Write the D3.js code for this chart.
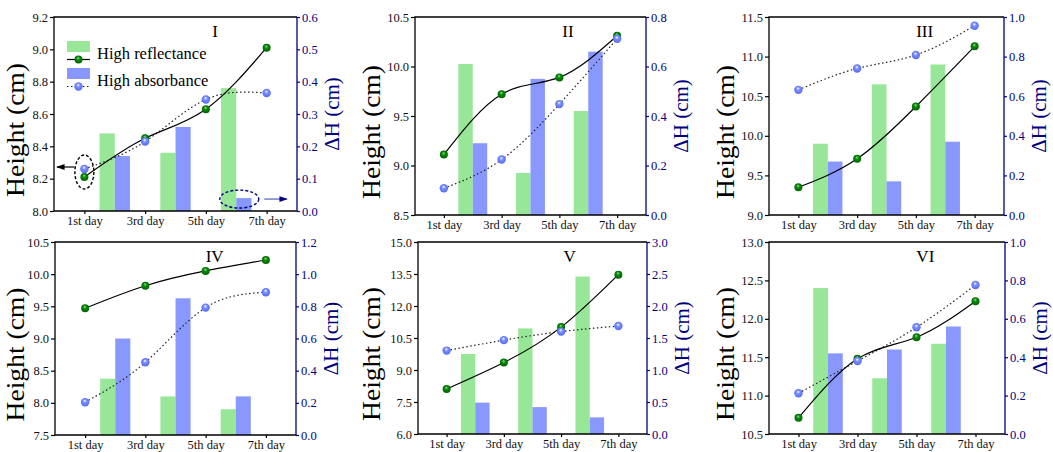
<!DOCTYPE html>
<html>
<head>
<meta charset="utf-8">
<script src="https://cdn.jsdelivr.net/npm/d3@7"></script>
<style>
  body { margin: 0; background: #fff; }
  text { font-family: "Liberation Serif", "Times New Roman", serif; }
</style>
</head>
<body>
<div id="chart"></div>
<script>
// data
var dayLabels = ["1st day", "3rd day", "5th day", "7th day"];
var dayNums = [1, 3, 5, 7];
var barDays = [2, 4, 6];
var panelNames = ["I", "II", "III", "IV", "V", "VI"];

var reflHeight = [
  [8.21, 8.45, 8.63, 9.01],
  [9.11, 9.72, 9.89, 10.31],
  [9.35, 9.71, 10.37, 11.13],
  [9.47, 9.82, 10.05, 10.22],
  [8.11, 9.35, 11.01, 13.47],
  [10.71, 11.48, 11.76, 12.23]
];
var absHeight = [
  [8.26, 8.43, 8.69, 8.73],
  [8.77, 9.06, 9.62, 10.28],
  [10.58, 10.85, 11.02, 11.39],
  [8.01, 8.63, 9.48, 9.72],
  [9.91, 10.40, 10.80, 11.06],
  [11.03, 11.45, 11.89, 12.44]
];
var reflDelta = [
  [0.24, 0.18, 0.38],
  [0.61, 0.17, 0.42],
  [0.36, 0.66, 0.76],
  [0.35, 0.24, 0.16],
  [1.25, 1.65, 2.46],
  [0.76, 0.29, 0.47]
];
var absDelta = [
  [0.17, 0.26, 0.04],
  [0.29, 0.55, 0.66],
  [0.27, 0.17, 0.37],
  [0.60, 0.85, 0.24],
  [0.49, 0.42, 0.26],
  [0.42, 0.44, 0.56]
];
var heightDomains = [[8.0, 9.2], [8.5, 10.5], [9.0, 11.5], [7.5, 10.5], [6.0, 15.0], [10.5, 13.0]];
var heightSteps = [0.2, 0.5, 0.5, 0.5, 1.5, 0.5];
var deltaDomains = [[0, 0.6], [0, 0.8], [0, 1.0], [0, 1.2], [0, 3.0], [0, 1.0]];
var deltaSteps = [0.1, 0.2, 0.2, 0.2, 0.5, 0.2];

// frame of each panel (left, right, top, bottom) and x of the left title
var frames = [
  [54, 297, 17, 211],
  [415, 646, 17, 215],
  [769, 1004, 17, 215],
  [55, 296, 242, 435],
  [418, 647, 242, 434],
  [769, 1005, 242, 434]
];
var titleX = [24, 380, 734, 24, 380, 734];

var greenBar = "#98e698", blueBar = "#8898ff";
var navy = "#000080";

var svg = d3.select("#chart").append("svg")
  .attr("width", 1053)
  .attr("height", 452);

var defs = svg.append("defs");
function ballGrad(id, light, base, dark) {
  var g = defs.append("radialGradient").attr("id", id)
    .attr("cx", "0.5").attr("cy", "0.5").attr("r", "0.6")
    .attr("fx", "0.45").attr("fy", "0.3");
  g.append("stop").attr("offset", "0").attr("stop-color", light);
  g.append("stop").attr("offset", "0.35").attr("stop-color", base);
  g.append("stop").attr("offset", "1").attr("stop-color", dark);
}
ballGrad("ballGreen", "#9be29b", "#0a8a0a", "#005a00");
ballGrad("ballBlue", "#ffffff", "#7a8fff", "#4d62f0");

var marker = function(id, color) {
  defs.append("marker").attr("id", id)
    .attr("viewBox", "0 0 10 10").attr("refX", 9).attr("refY", 5)
    .attr("markerWidth", 7).attr("markerHeight", 7)
    .attr("orient", "auto-start-reverse")
    .append("path").attr("d", "M0,1.5 L10,5 L0,8.5 Z").attr("fill", color);
};
marker("arrBlack", "#000");
marker("arrNavy", navy);

function drawPanel(p) {
  var f = frames[p];
  var left = f[0], right = f[1], top = f[2], bottom = f[3];

  var x = d3.scaleLinear().domain([0, 8]).range([left, right]);
  var y = d3.scaleLinear().domain(heightDomains[p]).range([bottom, top]);
  var y2 = d3.scaleLinear().domain(deltaDomains[p]).range([bottom, top]);
  var bw = x(0.5) - x(0);

  var g = svg.append("g");

  // bars (height change)
  g.selectAll("rect.refl")
    .data(reflDelta[p])
    .enter().append("rect")
    .attr("x", function(d, i) { return x(barDays[i]) - bw; })
    .attr("width", bw)
    .attr("y", function(d) { return y2(d); })
    .attr("height", function(d) { return y2(0) - y2(d); })
    .attr("fill", greenBar);
  g.selectAll("rect.abs")
    .data(absDelta[p])
    .enter().append("rect")
    .attr("x", function(d, i) { return x(barDays[i]); })
    .attr("width", bw)
    .attr("y", function(d) { return y2(d); })
    .attr("height", function(d) { return y2(0) - y2(d); })
    .attr("fill", blueBar);

  // lines
  var line = d3.line()
    .x(function(d, i) { return x(dayNums[i]); })
    .y(function(d) { return y(d); })
    .curve(d3.curveNatural);

  g.append("path").datum(absHeight[p])
    .attr("fill", "none").attr("stroke", "#222")
    .attr("stroke-width", 1.2).attr("stroke-dasharray", "1.5,2.5")
    .attr("d", line);
  g.append("path").datum(reflHeight[p])
    .attr("fill", "none").attr("stroke", "#000")
    .attr("stroke-width", 1.2)
    .attr("d", line);

  g.selectAll("circle.refl")
    .data(reflHeight[p])
    .enter().append("circle")
    .attr("cx", function(d, i) { return x(dayNums[i]); })
    .attr("cy", function(d) { return y(d); })
    .attr("r", 4)
    .attr("fill", "url(#ballGreen)");
  g.selectAll("circle.abs")
    .data(absHeight[p])
    .enter().append("circle")
    .attr("cx", function(d, i) { return x(dayNums[i]); })
    .attr("cy", function(d) { return y(d); })
    .attr("r", 4.2)
    .attr("fill", "url(#ballBlue)");

  // axes
  var hd = heightDomains[p], hs = heightSteps[p];
  var hTicks = d3.range(hd[0], hd[1] + hs / 2, hs);
  var dd = deltaDomains[p], ds = deltaSteps[p];
  var dTicks = d3.range(dd[0], dd[1] + ds / 2, ds);

  var xAxis = g.append("g")
    .attr("transform", "translate(0," + bottom + ")")
    .call(d3.axisBottom(x).tickValues(dayNums).tickSize(3).tickPadding(2.5).tickSizeOuter(0)
      .tickFormat(function(d, i) { return dayLabels[i]; }));
  xAxis.select(".domain").remove();
  xAxis.selectAll("line").attr("stroke", "#000").attr("stroke-width", 1.2);
  xAxis.selectAll("text").attr("font-size", "12.5px").attr("fill", "#111");

  var yAxis = g.append("g")
    .attr("transform", "translate(" + left + ",0)")
    .call(d3.axisLeft(y).tickValues(hTicks).tickSize(4).tickPadding(2)
      .tickFormat(d3.format(".1f")));
  yAxis.select(".domain").remove();
  yAxis.selectAll("line").attr("stroke", "#000").attr("stroke-width", 1.2);
  yAxis.selectAll("text").attr("font-size", "12.5px").attr("fill", "#111");

  var yAxis2 = g.append("g")
    .attr("transform", "translate(" + right + ",0)")
    .call(d3.axisRight(y2).tickValues(dTicks).tickSize(3).tickPadding(2)
      .tickFormat(d3.format(".1f")));
  yAxis2.select(".domain").remove();
  yAxis2.selectAll("line").attr("stroke", navy).attr("stroke-width", 1.2);
  yAxis2.selectAll("text").attr("font-size", "12.5px").attr("fill", navy);

  // frame
  g.append("path")
    .attr("d", "M" + right + "," + top + "H" + left + "V" + bottom + "H" + right)
    .attr("fill", "none").attr("stroke", "#000").attr("stroke-width", 1.3);
  g.append("line")
    .attr("x1", right).attr("x2", right).attr("y1", top).attr("y2", bottom)
    .attr("stroke", navy).attr("stroke-width", 1.3);

  // titles
  g.append("text")
    .attr("transform", "translate(" + titleX[p] + "," + ((top + bottom) / 2 + 16) + ") rotate(-90)")
    .attr("text-anchor", "middle")
    .attr("font-size", "25px")
    .attr("textLength", 134)
    .attr("lengthAdjust", "spacingAndGlyphs")
    .attr("fill", "#000")
    .text("Height (cm)");
  g.append("text")
    .attr("transform", "translate(" + (right + 42) + "," + ((top + bottom) / 2) + ") rotate(-90)")
    .attr("text-anchor", "middle")
    .attr("font-size", "21px")
    .attr("fill", navy)
    .text("\u0394H (cm)");

  g.append("text")
    .attr("x", x(5.3)).attr("y", top + 20)
    .attr("text-anchor", "middle")
    .attr("font-size", "17px")
    .text(panelNames[p]);

  return {x: x, y: y, y2: y2, g: g, left: left, right: right};
}

var panels = d3.range(6).map(drawPanel);

// legend and annotations in panel I
var p1 = panels[0];
var lg = p1.g.append("g").attr("transform", "translate(67,41)");
lg.append("rect").attr("width", 23).attr("height", 11).attr("fill", greenBar);
lg.append("line").attr("x1", 0).attr("x2", 23).attr("y1", 18.5).attr("y2", 18.5)
  .attr("stroke", "#000").attr("stroke-width", 1.2);
lg.append("circle").attr("cx", 11.5).attr("cy", 18.5).attr("r", 4).attr("fill", "url(#ballGreen)");
lg.append("text").attr("x", 30).attr("y", 18).attr("font-size", "16.5px").text("High reflectance");
lg.append("rect").attr("y", 27).attr("width", 23).attr("height", 11).attr("fill", blueBar);
lg.append("line").attr("x1", 0).attr("x2", 23).attr("y1", 45.5).attr("y2", 45.5)
  .attr("stroke", "#222").attr("stroke-width", 1.2).attr("stroke-dasharray", "1.5,2.5");
lg.append("circle").attr("cx", 11.5).attr("cy", 45.5).attr("r", 4.2).attr("fill", "url(#ballBlue)");
lg.append("text").attr("x", 30).attr("y", 45).attr("font-size", "16.5px").text("High absorbance");

var cy1 = (p1.y(reflHeight[0][0]) + p1.y(absHeight[0][0])) / 2;
p1.g.append("ellipse")
  .attr("cx", p1.x(1)).attr("cy", cy1 - 1).attr("rx", 9.5).attr("ry", 17)
  .attr("fill", "none").attr("stroke", "#000").attr("stroke-width", 1.4)
  .attr("stroke-dasharray", "3,2");
p1.g.append("line")
  .attr("x1", p1.x(1) - 10).attr("x2", p1.left + 3).attr("y1", cy1 - 6).attr("y2", cy1 - 6)
  .attr("stroke", "#000").attr("stroke-width", 1.2).attr("marker-end", "url(#arrBlack)");

var cy2 = p1.y2(absDelta[0][2]) + 1;
p1.g.append("ellipse")
  .attr("cx", p1.x(6.1)).attr("cy", cy2).attr("rx", 19.5).attr("ry", 9)
  .attr("fill", "none").attr("stroke", navy).attr("stroke-width", 1.4)
  .attr("stroke-dasharray", "3,2");
p1.g.append("line")
  .attr("x1", p1.x(6.1) + 25).attr("x2", p1.right - 10).attr("y1", cy2).attr("y2", cy2)
  .attr("stroke", "#5060c0").attr("stroke-width", 1.2).attr("marker-end", "url(#arrNavy)");
</script>
</body>
</html>
